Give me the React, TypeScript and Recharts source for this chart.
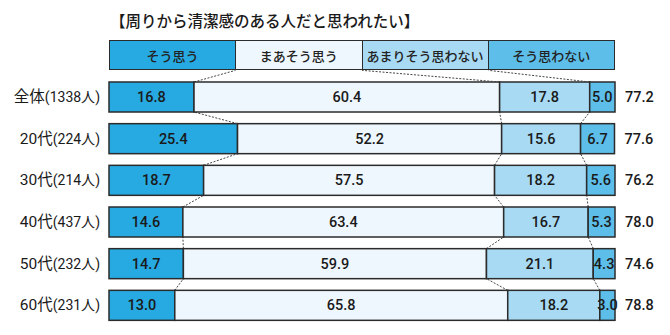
// App.tsx - 清潔感アンケート 100% stacked bars

import { Bar, BarChart, LabelList, XAxis, YAxis } from "recharts";

const TITLE = "【周りから清潔感のある人だと思われたい】";

const SERIES = ["そう思う", "まあそう思う", "あまりそう思わない", "そう思わない"];
const KEYS = ["s1", "s2", "s3", "s4"];
const COLORS = ["#27a9e1", "#eef7fd", "#a8daf4", "#5dbee9"];

const GROUPS = ["全体", "20代", "30代", "40代", "50代", "60代"];
const COUNTS = ["1338人", "224人", "214人", "437人", "232人", "231人"];

const SOU_OMOU = [16.8, 25.4, 18.7, 14.6, 14.7, 13.0];
const MAA_SOU = [60.4, 52.2, 57.5, 63.4, 59.9, 65.8];
const AMARI = [17.8, 15.6, 18.2, 16.7, 21.1, 18.2];
const OMOWANAI = [5.0, 6.7, 5.6, 5.3, 4.3, 3.0];
const TOTALS = ["77.2", "77.6", "76.2", "78.0", "74.6", "78.8"];

const rows = GROUPS.map((g, i) => ({
  name: g,
  count: COUNTS[i],
  s1: SOU_OMOU[i],
  s2: MAA_SOU[i],
  s3: AMARI[i],
  s4: OMOWANAI[i],
  total: TOTALS[i],
}));

// layout
const W = 670;
const H = 335;
const MARGIN = { top: 76, right: 55, bottom: 9, left: 0 };
const AXIS_W = 109;
const BAR = 30;
const BAND = (H - MARGIN.top - MARGIN.bottom) / rows.length;
const GAP = BAND - BAR;
const PLOT_W = W - MARGIN.left - MARGIN.right - AXIS_W;
const LEGEND_TOP = MARGIN.top + (BAND - BAR) / 2 - BAND;

const FONT = "Roboto, 'Noto Sans CJK JP', sans-serif";
const STROKE = "#2b2b2b";

const cumTo = (row: any, k: number) =>
  KEYS.slice(0, k + 1).reduce((s, kk) => s + row[kk], 0);

// segment + dashed connector to the row above (or to the legend)
const makeShape = (k: number) => (props: any) => {
  const { x, y, width, height, fill, index, payload } = props;
  const row = payload ?? rows[index];
  const idx = typeof index === "number" ? index : GROUPS.indexOf(row.name);
  const ppp = width / row[KEYS[k]];
  const left = x - (k === 0 ? 0 : cumTo(row, k - 1)) * ppp;
  let line = null;
  if (k < KEYS.length - 1) {
    const prev = idx === 0 ? ((k + 1) * 100) / KEYS.length : cumTo(rows[idx - 1], k);
    line = (
      <line
        x1={x + width}
        y1={y}
        x2={left + prev * ppp}
        y2={y - GAP}
        stroke="#444"
        strokeWidth={1}
        strokeDasharray="2 1.5"
      />
    );
  }
  return (
    <g>
      <rect x={x} y={y} width={width} height={height} fill={fill} stroke={STROKE} strokeWidth={1.5} />
      {line}
    </g>
  );
};

const GroupTick = ({ x, y, payload }: any) => {
  const i = GROUPS.indexOf(payload.value);
  return (
    <text x={x} y={y} dy={5} textAnchor="end" fill="#1a1a1a" fontFamily={FONT}>
      <tspan fontSize={15.5}>{payload.value}</tspan>
      <tspan fontSize={14}>({COUNTS[i]})</tspan>
    </text>
  );
};

export default function App() {
  return (
    <div style={{ position: "relative", width: W, height: H, background: "#fff", fontFamily: FONT }}>
      <style>{"body{margin:0}"}</style>
      <div
        style={{
          position: "absolute",
          left: 110,
          top: 10,
          fontSize: 15.5,
          lineHeight: "20px",
          fontWeight: 500,
          color: "#1a1a1a",
          fontFamily: "'Noto Sans CJK JP', sans-serif",
          whiteSpace: "nowrap",
        }}
      >
        {TITLE}
      </div>
      {/* legend boxes */}
      <div
        style={{
          position: "absolute",
          left: MARGIN.left + AXIS_W,
          top: LEGEND_TOP,
          width: PLOT_W,
          height: BAR,
          display: "flex",
          boxSizing: "border-box",
          border: `1.5px solid ${STROKE}`,
        }}
      >
        {SERIES.map((s, i) => (
          <div
            key={s}
            style={{
              flex: 1,
              background: COLORS[i],
              borderLeft: i ? `1.5px solid ${STROKE}` : "none",
              display: "flex",
              alignItems: "center",
              justifyContent: "center",
              fontSize: 13,
              fontWeight: 500,
              color: "#222",
              fontFamily: "'Noto Sans CJK JP', sans-serif",
              whiteSpace: "nowrap",
            }}
          >
            {s}
          </div>
        ))}
      </div>
      <div style={{ position: "absolute", left: 0, top: 0 }}>
        <BarChart
          width={W}
          height={H}
          data={rows}
          layout="vertical"
          margin={MARGIN}
          barSize={BAR}
        >
          <XAxis type="number" domain={[0, 100]} hide />
          <YAxis
            type="category"
            dataKey="name"
            width={AXIS_W}
            axisLine={false}
            tickLine={false}
            tickSize={0}
            tickMargin={9}
            tick={<GroupTick />}
          />
          {KEYS.map((k, i) => (
            <Bar
              key={k}
              dataKey={k}
              name={SERIES[i]}
              stackId="a"
              fill={COLORS[i]}
              shape={makeShape(i)}
              isAnimationActive={false}
            >
              <LabelList
                dataKey={k}
                position="center"
                fill="#1a1a1a"
                fontSize={14.5}
                fontWeight={500}
                formatter={(v: any) => Number(v).toFixed(1)}
              />
              {i === KEYS.length - 1 ? (
                <LabelList dataKey="total" position="right" offset={10} fill="#1a1a1a" fontSize={14.5} fontWeight={500} />
              ) : null}
            </Bar>
          ))}
        </BarChart>
      </div>
    </div>
  );
}
